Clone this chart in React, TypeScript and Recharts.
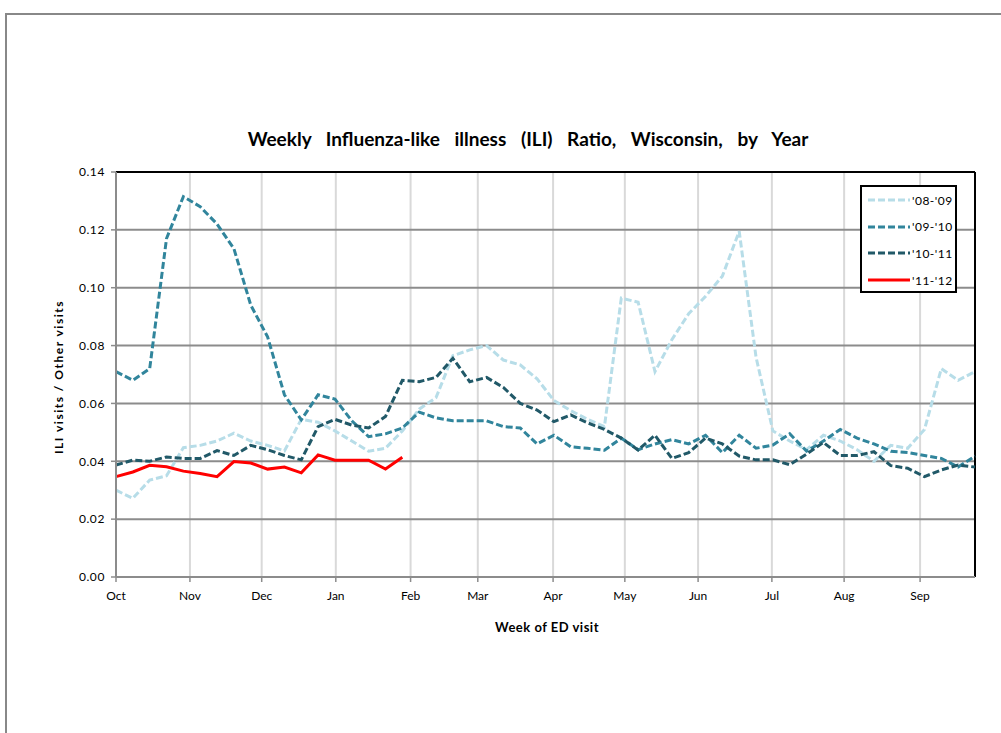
import React from "react";
import { LineChart, Line, XAxis, YAxis, CartesianGrid, ReferenceLine } from "recharts";

// month tick positions, in weeks from the first week of October
const monthLabels = ["Oct", "Nov", "Dec", "Jan", "Feb", "Mar", "Apr", "May", "Jun", "Jul", "Aug", "Sep"];
const monthTicks = [0, 4.39, 8.65, 13.05, 17.49, 21.48, 25.95, 30.21, 34.56, 38.94, 43.23, 47.74];
const yTicks = [0, 0.02, 0.04, 0.06, 0.08, 0.1, 0.12, 0.14];

const s0809 = [
  0.030, 0.0272, 0.0335, 0.035, 0.0447, 0.0455, 0.047, 0.0497, 0.047, 0.0455,
  0.0436, 0.0545, 0.0535, 0.0505, 0.047, 0.0435, 0.0445, 0.0505, 0.058, 0.062,
  0.0765, 0.0785, 0.080, 0.075, 0.0733, 0.0685, 0.061, 0.0575, 0.0545, 0.052,
  0.0964, 0.095, 0.071, 0.082, 0.091, 0.097, 0.104, 0.1195, 0.076, 0.0505,
  0.047, 0.044, 0.049, 0.047, 0.044, 0.040, 0.0455, 0.0445, 0.051, 0.072,
  0.068, 0.071,
];
const s0910 = [
  0.071, 0.068, 0.072, 0.117, 0.1315, 0.128, 0.122, 0.1135, 0.094, 0.083,
  0.063, 0.0543, 0.063, 0.0615, 0.054, 0.0485, 0.0495, 0.0515, 0.057, 0.055,
  0.054, 0.054, 0.054, 0.052, 0.0515, 0.046, 0.049, 0.045, 0.0445, 0.0438,
  0.048, 0.044, 0.046, 0.0475, 0.046, 0.049, 0.043, 0.049, 0.0445, 0.0456,
  0.0495, 0.0435, 0.047, 0.051, 0.048, 0.046, 0.0435, 0.043, 0.042, 0.041,
  0.038, 0.0418,
];
const s1011 = [
  0.0387, 0.0404, 0.040, 0.0415, 0.041, 0.041, 0.0437, 0.042, 0.0455, 0.044,
  0.042, 0.0405, 0.052, 0.0545, 0.0525, 0.0515, 0.0555, 0.068, 0.0675, 0.069,
  0.0756, 0.0675, 0.069, 0.0655, 0.060, 0.0577, 0.0537, 0.056, 0.0533, 0.051,
  0.048, 0.0439, 0.049, 0.041, 0.043, 0.048, 0.046, 0.0418, 0.0405, 0.0405,
  0.0388, 0.0425, 0.0465, 0.042, 0.042, 0.0433, 0.0385, 0.0376, 0.0347, 0.037,
  0.0387, 0.038,
];
const s1112 = [
  0.0347, 0.0363, 0.0386, 0.0381, 0.0366, 0.0358, 0.0347, 0.0399, 0.0394, 0.0373,
  0.038, 0.036, 0.0422, 0.0404, 0.0404, 0.0404, 0.0373, 0.0414,
];

const series = [
  { key: "y0809", name: "'08-'09", color: "#b7dde8", dash: "7 3" },
  { key: "y0910", name: "'09-'10", color: "#31859c", dash: "7 3" },
  { key: "y1011", name: "'10-'11", color: "#215968", dash: "7 3" },
  { key: "y1112", name: "'11-'12", color: "#ff0000", dash: undefined },
];

const data = s0809.map((v, i) => ({
  week: i,
  y0809: v,
  y0910: s0910[i],
  y1011: s1011[i],
  y1112: s1112[i],
}));

const FONT = "Lato, 'Open Sans', sans-serif";

function monthName(v: number) {
  const i = monthTicks.indexOf(v);
  return i >= 0 ? monthLabels[i] : "";
}

export default function App() {
  return (
    <div style={{ position: "absolute", left: 0, top: 0, width: 1001, height: 733, background: "#fff", fontFamily: FONT, overflow: "hidden" }}>
      {/* sheet frame */}
      <div style={{ position: "absolute", left: 5, top: 13, right: -4, bottom: -4, borderLeft: "2px solid #888", borderTop: "2px solid #888" }} />

      <div style={{ position: "absolute", left: 0, width: 1056, top: 127, textAlign: "center", fontWeight: 700, fontSize: 19, color: "#000", whiteSpace: "pre", wordSpacing: 10 }}>
        Weekly Influenza-like illness (ILI) Ratio, Wisconsin, by Year
      </div>

      <LineChart width={1001} height={733} data={data} margin={{ top: 172, right: 26, bottom: 126, left: 76 }}>
        <CartesianGrid horizontal={false} stroke="#d9d9d9" strokeWidth={2} />
        <CartesianGrid vertical={false} stroke="#8c8c8c" strokeWidth={2} />
        <XAxis
          type="number"
          dataKey="week"
          domain={[0, 51]}
          ticks={monthTicks}
          interval={0}
          tickFormatter={monthName}
          height={30}
          axisLine={{ stroke: "#8c8c8c", strokeWidth: 2 }}
          tickLine={{ stroke: "#8c8c8c", strokeWidth: 1.5 }}
          tickSize={5}
          tickMargin={9}
          tick={{ fill: "#000", fontSize: 12, fontFamily: FONT }}
        />
        <YAxis
          domain={[0, 0.14]}
          ticks={yTicks}
          interval={0}
          tickFormatter={(v: number) => v.toFixed(2)}
          width={40}
          axisLine={{ stroke: "#8c8c8c", strokeWidth: 2 }}
          tickLine={{ stroke: "#8c8c8c", strokeWidth: 1.5 }}
          tickSize={5}
          tickMargin={6}
          tick={{ fill: "#000", fontSize: 12, fontFamily: FONT, letterSpacing: 0.6 }}
        />
        <ReferenceLine y={0.14} stroke="#000" strokeWidth={2} />
        <ReferenceLine x={51} stroke="#000" strokeWidth={2} />
        {series.map((s) => (
          <Line
            key={s.key}
            type="linear"
            dataKey={s.key}
            stroke={s.color}
            strokeWidth={3}
            strokeDasharray={s.dash}
            dot={false}
            activeDot={false}
            isAnimationActive={false}
          />
        ))}
      </LineChart>

      {/* axis titles */}
      <div style={{ position: "absolute", left: 58, top: 377, transform: "translate(-50%, -50%) rotate(-90deg)", fontWeight: 700, fontSize: 12, letterSpacing: 1.5, whiteSpace: "nowrap" }}>
        ILI visits / Other visits
      </div>
      <div style={{ position: "absolute", left: 547, top: 627, transform: "translate(-50%, -50%)", fontWeight: 700, fontSize: 13, letterSpacing: 0.5, whiteSpace: "nowrap" }}>
        Week of ED visit
      </div>

      {/* legend */}
      <div style={{ position: "absolute", left: 860, top: 185, width: 93, height: 104, border: "2px solid #000", background: "#fff" }}>
        {series.map((s, i) => (
          <div key={s.key} style={{ position: "absolute", left: 6, top: 4 + i * 26.7, height: 18, display: "flex", alignItems: "center", whiteSpace: "nowrap" }}>
            <svg width={42} height={6} style={{ display: "block", flex: "none" }}>
              <line x1={0} y1={3} x2={42} y2={3} stroke={s.color} strokeWidth={3} strokeDasharray={s.dash} />
            </svg>
            <span style={{ fontSize: 12, marginLeft: 2, color: "#000", letterSpacing: 0.5, whiteSpace: "nowrap" }}>{s.name}</span>
          </div>
        ))}
      </div>
    </div>
  );
}
